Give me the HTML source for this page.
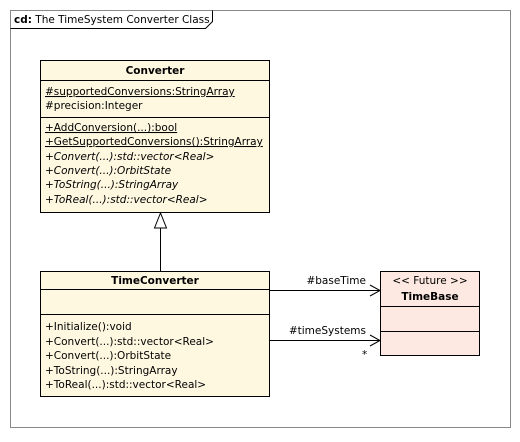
<!DOCTYPE html>
<html><head><style>
body{margin:0;background:#fff;width:520px;height:438px;overflow:hidden;font-family:"DejaVu Sans","Liberation Sans",sans-serif;}
svg text{font-size:10.5px;fill:#000;}
</style></head><body>
<svg width="520" height="438" xmlns="http://www.w3.org/2000/svg">
<rect x="10.5" y="10.5" width="500" height="417" fill="none" stroke="#888" stroke-width="1"/>
<path d="M10.5 28.5 H205.5 L212.5 21.5 V10.5" fill="none" stroke="#000"/>
<text x="14" y="23"><tspan font-weight="bold">cd:</tspan> The TimeSystem Converter Class</text>

<rect x="40.5" y="60.5" width="229" height="152" fill="#fff8e1" stroke="#000"/>
<line x1="40.5" y1="80.5" x2="269.5" y2="80.5" stroke="#000"/>
<line x1="40.5" y1="117.5" x2="269.5" y2="117.5" stroke="#000"/>
<text x="155" y="74" text-anchor="middle" font-weight="bold">Converter</text>
<text x="45" y="95" text-decoration="underline">#supportedConversions:StringArray</text>
<text x="45" y="109">#precision:Integer</text>
<text x="45" y="131" text-decoration="underline">+AddConversion(...):bool</text>
<text x="45" y="145" text-decoration="underline">+GetSupportedConversions():StringArray</text>
<text x="45" y="160" font-style="italic">+Convert(...):std::vector&lt;Real&gt;</text>
<text x="45" y="174" font-style="italic">+Convert(...):OrbitState</text>
<text x="45" y="188" font-style="italic">+ToString(...):StringArray</text>
<text x="45" y="203" font-style="italic">+ToReal(...):std::vector&lt;Real&gt;</text>

<line x1="160.5" y1="228" x2="160.5" y2="271" stroke="#000"/>
<polygon points="160.5,213 154.5,228 166.5,228" fill="#fff" stroke="#000"/>

<rect x="40.5" y="271.5" width="229" height="125" fill="#fff8e1" stroke="#000"/>
<line x1="40.5" y1="289.5" x2="269.5" y2="289.5" stroke="#000"/>
<line x1="40.5" y1="314.5" x2="269.5" y2="314.5" stroke="#000"/>
<text x="155" y="284" text-anchor="middle" font-weight="bold">TimeConverter</text>
<text x="45" y="330">+Initialize():void</text>
<text x="45" y="345">+Convert(...):std::vector&lt;Real&gt;</text>
<text x="45" y="359">+Convert(...):OrbitState</text>
<text x="45" y="374">+ToString(...):StringArray</text>
<text x="45" y="388">+ToReal(...):std::vector&lt;Real&gt;</text>

<rect x="380.5" y="271.5" width="99" height="84" fill="#fde9e1" stroke="#000"/>
<line x1="380.5" y1="306.5" x2="479.5" y2="306.5" stroke="#000"/>
<line x1="380.5" y1="331.5" x2="479.5" y2="331.5" stroke="#000"/>
<text x="430" y="284" text-anchor="middle">&lt;&lt; Future &gt;&gt;</text>
<text x="430" y="300" text-anchor="middle" font-weight="bold">TimeBase</text>

<line x1="269.5" y1="290.5" x2="380" y2="290.5" stroke="#000"/>
<polyline points="370,285 380,290.5 370,296" fill="none" stroke="#000"/>
<text x="366" y="284" text-anchor="end">#baseTime</text>
<line x1="269.5" y1="340.5" x2="380" y2="340.5" stroke="#000"/>
<polyline points="370,335 380,340.5 370,346" fill="none" stroke="#000"/>
<text x="366" y="334" text-anchor="end">#timeSystems</text>
<text x="362" y="358">*</text>
</svg>
</body></html>
